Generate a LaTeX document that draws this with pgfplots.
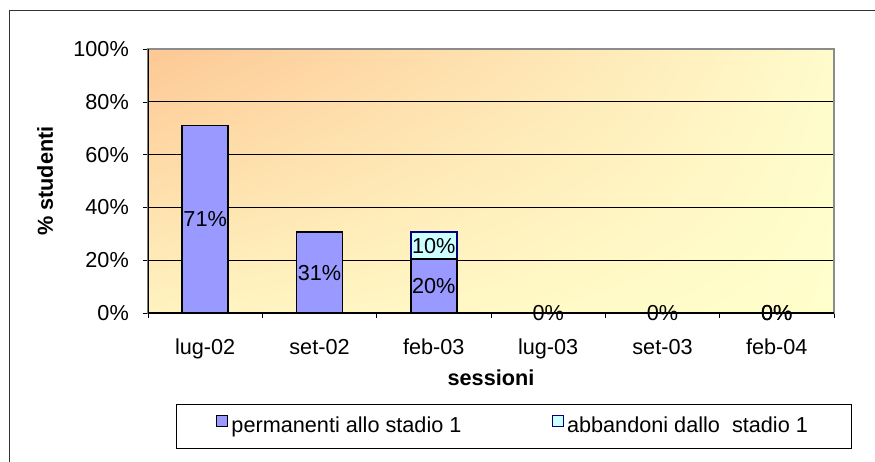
\documentclass[border=0pt]{standalone}
\usepackage{fontspec}
\setmainfont{Liberation Sans}
\usepackage{pgfplots}
\usepackage{pgfplotstable}
\usetikzlibrary{shadings}
\pgfplotsset{compat=1.18}
\pgfplotsset{/pgf/number format/assume math mode=true}

\definecolor{barblue}{HTML}{9999FF}
\definecolor{barcyan}{HTML}{CCFFFF}
\definecolor{cyanedge}{HTML}{000080}
\definecolor{bgUL}{HTML}{FDC894}
\definecolor{bgUR}{HTML}{FFFBCB}
\definecolor{bgLL}{HTML}{FFF3C0}
\definecolor{bgLR}{HTML}{FFFFCC}

% sessione, valore (%)
\pgfplotstableread{
x y show
0 71 1
1 30.6 1
2 20.4 1
3 0 0
4 0 0
5 0 0
}\perm
\pgfplotstableread{
x y show
0 0 0
1 0 0
2 10.2 1
3 0 0
4 0 0
5 0 0
}\abb
% etichette dei valori nulli
\pgfplotstableread{
x y
3 0
4 0
5 0
5 0
}\zeri

\pgfplotsset{
  common/.style={
    at={(88.8pt,88.8pt)}, anchor=south west,
    scale only axis,
    width=411.6pt, height=158.4pt,
    xmin=-0.5, xmax=5.5,
    ymin=0, ymax=100,
  }
}

\begin{document}
\fontsize{13}{15.5}\selectfont
\begin{tikzpicture}
\path[use as bounding box] (0,0) rectangle (525pt,276.6pt);
\draw[black!80] (5.4pt,-2pt) -- (5.4pt,270.6pt) -- (530pt,270.6pt);
\begin{axis}[
    common,
    ybar stacked,
    bar width=27.6pt,
    xtick={0,...,5},
    xticklabels={lug-02,set-02,feb-03,lug-03,set-03,feb-04},
    minor xtick={-0.5,0.5,...,5.5},
    major x tick style={draw=none},
    minor x tick style={black},
    minor tick length=3pt,
    major tick length=3pt,
    ytick={0,20,...,100},
    yticklabel={\pgfmathprintnumber{\tick}\%},
    ytick style={black},
    tick align=outside,
    tick pos=left,
    ymajorgrids,
    major grid style={black, line width=0.5pt},
    axis line style={black!45, line width=0.8pt},
    axis background/.style={shade,
        upper left=bgUL, upper right=bgUR,
        lower left=bgLL, lower right=bgLR},
    xticklabel style={yshift=-8pt},
    yticklabel style={xshift=-4pt},
    xlabel={\bfseries sessioni},
    ylabel={\bfseries \% studenti},
    xlabel style={at={(axis description cs:0.5,-0.246)}, anchor=center},
    ylabel style={at={(axis description cs:-0.150,0.5)}, anchor=center},
    nodes near coords={\ifdim\shw pt>0.5pt \pgfmathprintnumber[fixed,precision=0]{\pgfplotspointmeta}\%\fi},
    point meta=\thisrow{y},
    visualization depends on={\thisrow{show} \as \shw},
    every node near coord/.append style={anchor=center, black, inner sep=0pt},
    legend style={at={(axis description cs:0.533,-0.430)}, anchor=center,
        draw=black, legend columns=2, inner xsep=24pt, inner ysep=5.5pt,
        nodes={inner xsep=2pt},
        /tikz/every even column/.append style={column sep=52pt},
        fill=white},
    legend image code/.code={\draw[#1, line width=0.7pt] (0pt,0pt) rectangle (6.6pt,6.6pt);},
]
\addplot[fill=barblue, draw=black, line width=1pt] table[x=x,y=y] {\perm};
\addplot[fill=barcyan, draw=cyanedge, line width=1pt] table[x=x,y=y] {\abb};
\legend{permanenti allo stadio 1, abbandoni dallo\ \ stadio 1}
\draw[black, line width=0.8pt] (rel axis cs:0,1) -- (rel axis cs:0,0) -- (rel axis cs:1,0);
\end{axis}
\begin{axis}[
    common, hide axis,
    nodes near coords={0\%},
    every node near coord/.append style={anchor=center, black, inner sep=0pt},
]
\addplot[only marks, mark=none] table[x=x,y=y] {\zeri};
\end{axis}
\end{tikzpicture}
\end{document}
